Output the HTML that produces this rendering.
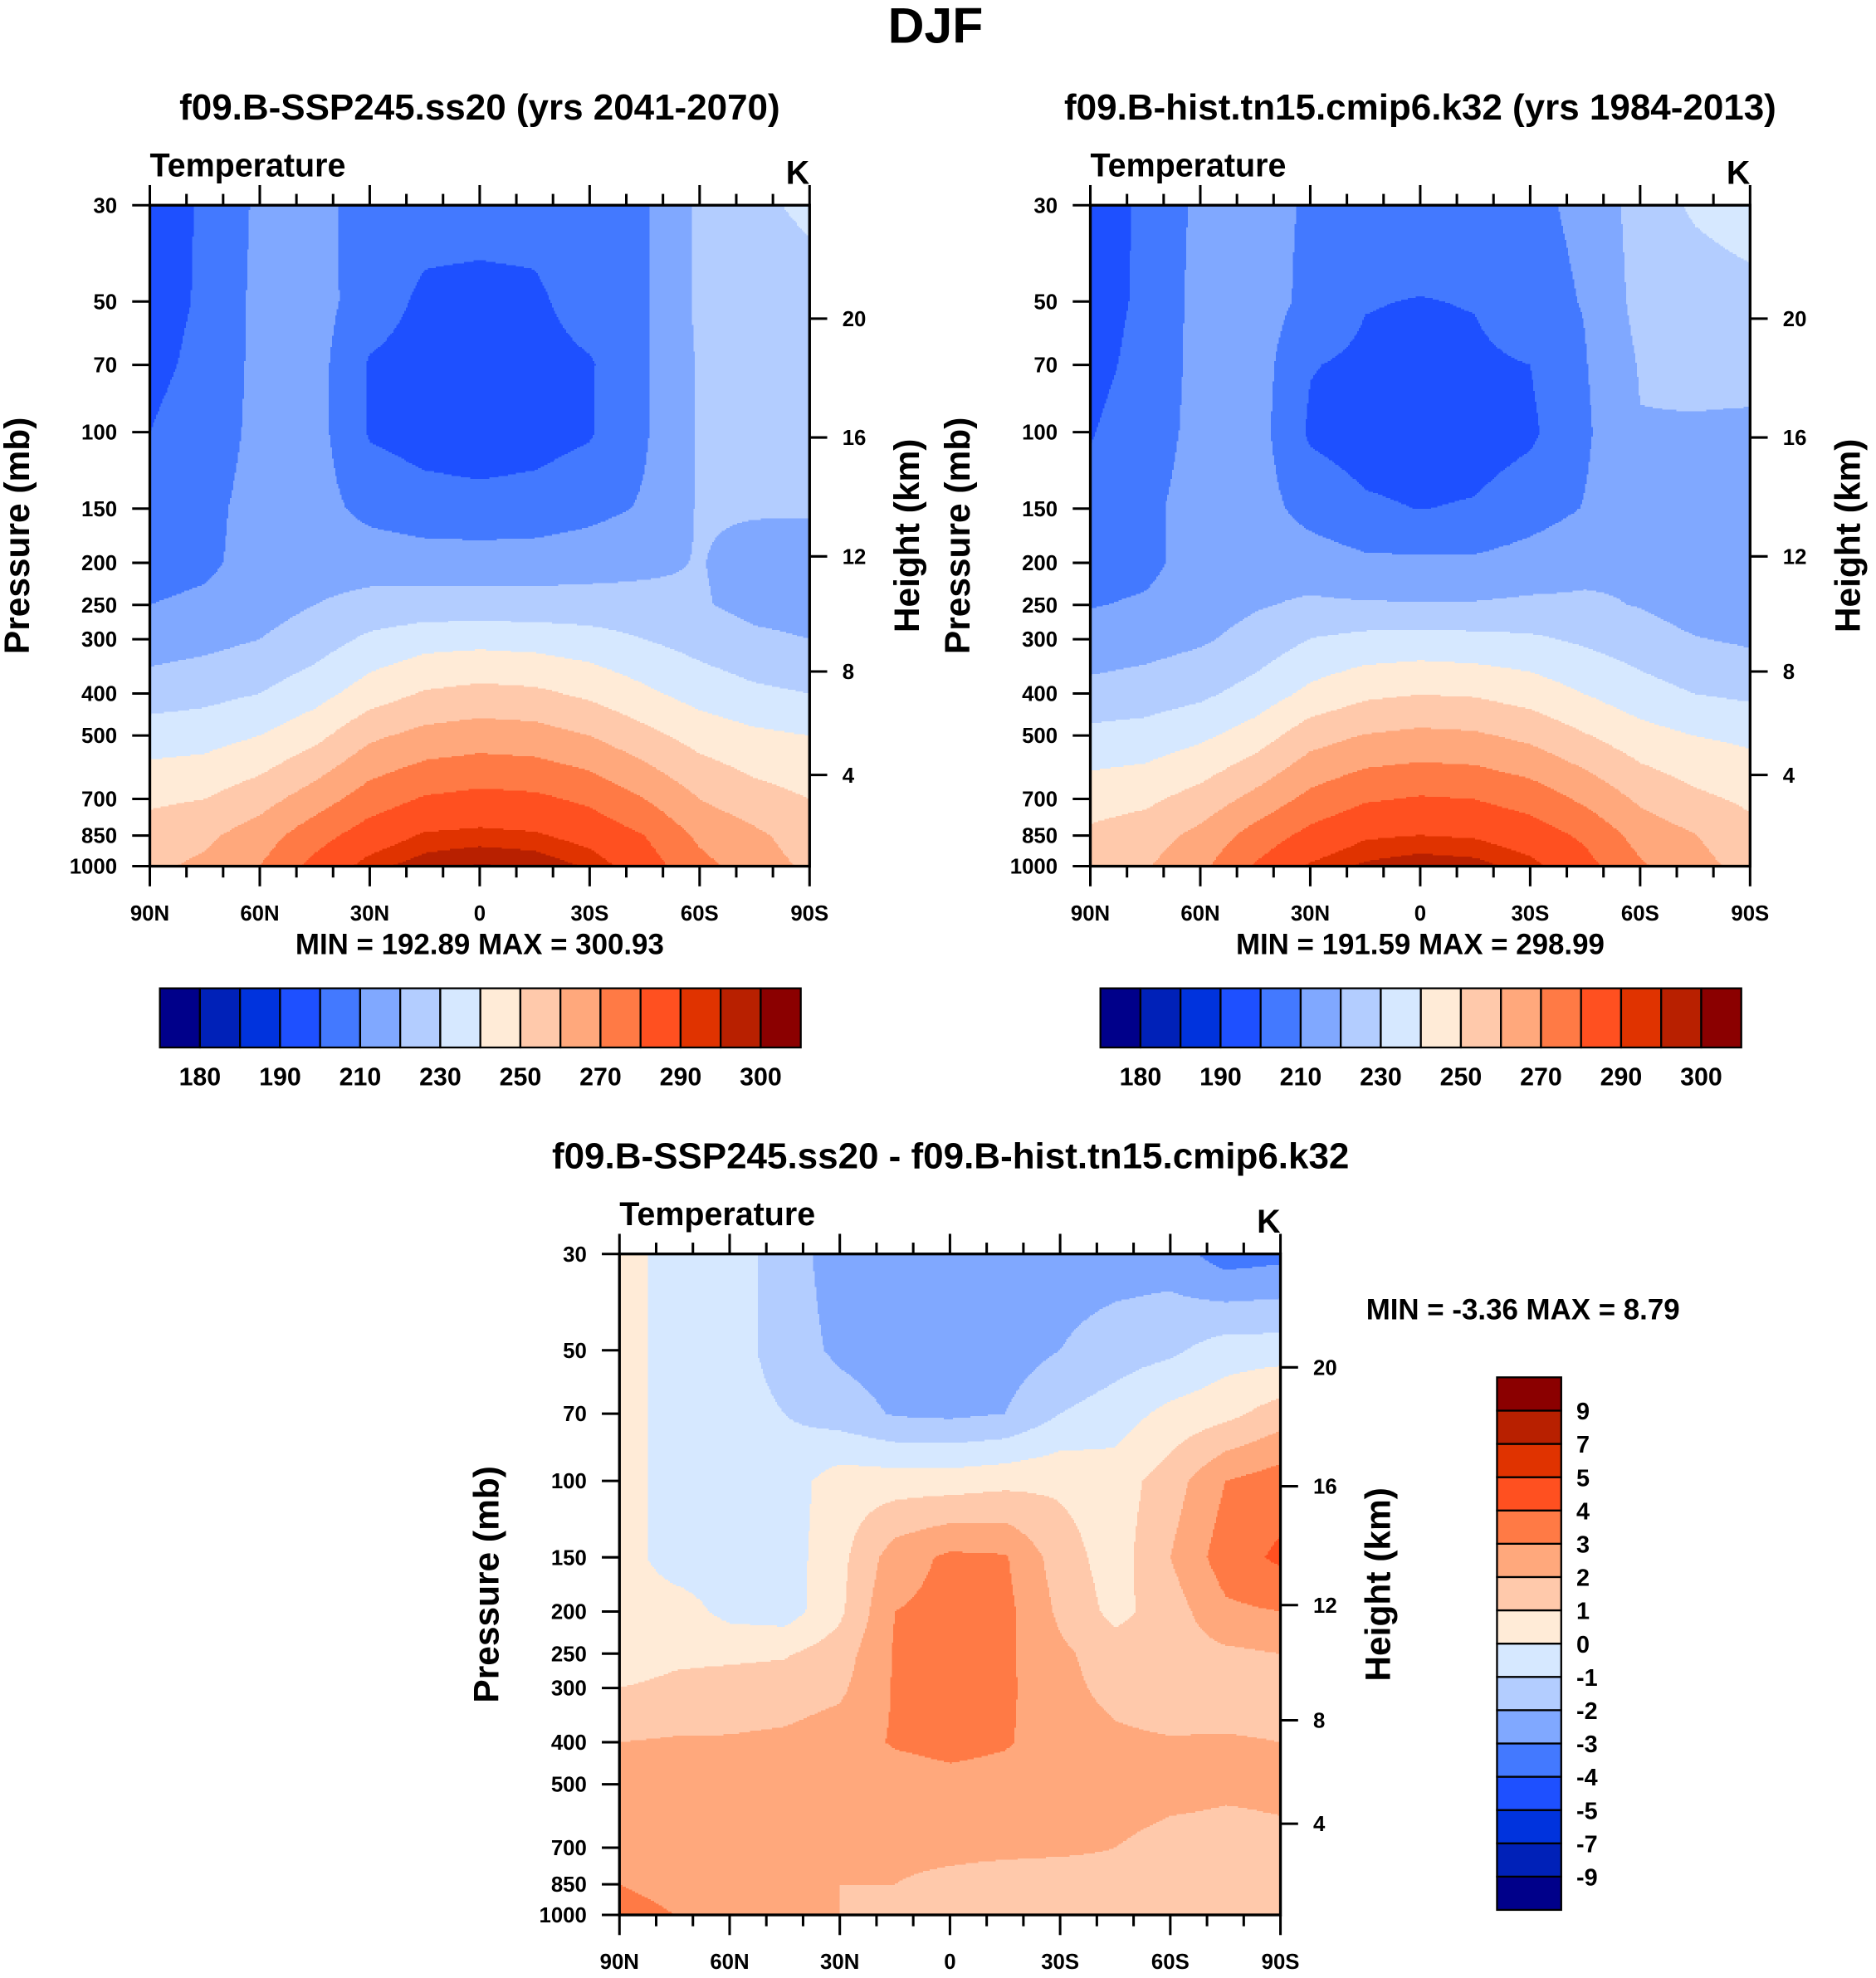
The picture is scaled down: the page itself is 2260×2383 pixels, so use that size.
<!DOCTYPE html>
<html><head><meta charset="utf-8"><title>DJF Temperature</title>
<style>
html,body{margin:0;padding:0;background:#fff;}
svg{display:block;font-family:"Liberation Sans",sans-serif;font-weight:bold;}
</style></head>
<body>
<svg id="fig" xmlns="http://www.w3.org/2000/svg" width="2260" height="2383" viewBox="0 0 1490 1571.1">
<rect x="0" y="0" width="1490" height="1572" fill="#fff"/>
<text x="743" y="34" text-anchor="middle" font-size="40">DJF</text>
<text x="381" y="95" text-anchor="middle" font-size="29">f09.B-SSP245.ss20 (yrs 2041-2070)</text>
<text x="1128" y="95" text-anchor="middle" font-size="29">f09.B-hist.tn15.cmip6.k32 (yrs 1984-2013)</text>
<text x="755" y="928" text-anchor="middle" font-size="29">f09.B-SSP245.ss20 - f09.B-hist.tn15.cmip6.k32</text>
<g id="p1"></g>
<g id="p2"></g>
<g id="p3"></g>
</svg>
<script>
const lats = ["90N","75N","60N","45N","30N","15N","0","15S","30S","45S","60S","75S","90S"];
const pressures = [30,50,70,100,150,200,250,300,400,500,700,850,1000];
const latLabels = ["90N","60N","30N","0","30S","60S","90S"];
const heightTicks = [4,8,12,16,20];
const absLevels = [180,185,190,200,210,220,230,240,250,260,270,280,290,295,300];
const absLabels = ["180","190","210","230","250","270","290","300"];
const diffLevels = [-9,-7,-5,-4,-3,-2,-1,0,1,2,3,4,5,7,9];
const diffLabels = ["-9","-7","-5","-4","-3","-2","-1","0","1","2","3","4","5","7","9"];
const colors = ["#00008a","#0021b8","#0033dd","#1e50ff","#4379ff","#80a8ff","#b3cdff","#d6e8ff","#ffebd7","#ffc9ab","#ffa87c","#ff7a45","#ff5020","#e03300","#b82000","#8b0000"];

const futureT = [
[196,201,212,213,206,204,204,204,206,209,222,228,232],
[197,201,213,214,205,198,197,198,205,209,222,224,226],
[198,202,213,214,199,196,195,196,199,209,221,223,224],
[200,204,213,214,199,196,195,196,199,209,221,222,222],
[203,207,214,214,207,204,203,204,207,211,221,221,221],
[206,208,214,216,216,215,215,215,216,218,220.5,216,215],
[210,212,216,220,223,224,224,224,224,223,221,217,216],
[215,217,220,225,232,236,237,236,234,230,226,222,220],
[225,227,230,236,245,251,253,252,248,242,236,232,230],
[235,236,240,247,258,263,265,264,260,253,246,242,240],
[248,250,256,265,275,281,283,282,278,270,260,254,250],
[255,258,265,276,285,291,292,291,287,280,268,262,255],
[258,262,270,283,293,298,300.5,299,294,285,273,265,258]];
const histT = [
[195.5,201.5,212.5,214.5,208.5,207,207,207,208.5,211.5,224.5,231.5,235.3],
[196.5,201.5,213.5,215.5,207.2,200.5,199.6,200.5,207,210.5,223.2,224.5,226.5],
[197.5,202.5,213.5,215,200.5,198.1,197.2,198,200,209.5,220.7,222.3,222.5],
[199.5,204.5,213.5,214.5,198.5,195.5,194.5,195.3,198.2,208.5,219.5,219,218.5],
[202.5,207.5,214.5,214.5,206.3,201.5,199.8,200.9,205.5,210.5,219,217.5,216.8],
[205.5,207.5,214.3,216.5,215.2,212,211.7,211.7,214.2,217.3,219,213.2,212],
[209.5,211.2,215.2,219.1,221.5,220.9,220.7,220.8,221.8,221.5,219.5,215.2,214],
[214,215.8,218.6,223.5,230.2,232.9,233.7,232.8,231.7,228.3,224.7,220.5,218.5],
[223,224.9,227.9,233.8,242.5,247.9,249.7,248.9,245.5,239.8,233.9,229.9,228],
[232.9,233.9,237.9,244.8,255.7,260.5,262.3,261.4,257.5,250.7,243.8,239.9,237.9],
[245.7,247.8,253.9,262.9,272.9,278.9,280.9,279.9,275.9,268,258.2,252.2,248.1],
[252,255.4,262.8,274,283,289,290.1,289.2,285.3,278.2,266.3,260.3,253.3],
[254.5,259,267.5,281,291,296.1,298.5,297.2,292.3,283.3,271.4,263.4,256.4]];
const diffT = [
[0.5,-0.5,-0.5,-1.5,-2.5,-2.5,-2.5,-2.5,-2.5,-2.5,-2.5,-3.5,-3.3],
[0.5,-0.5,-0.5,-1.5,-2.2,-2.5,-2.6,-2.5,-2,-1.5,-1.2,-0.5,-0.5],
[0.5,-0.5,-0.5,-1,-1.5,-2.1,-2.2,-2,-1,-0.5,0.3,0.7,1.5],
[0.5,-0.5,-0.5,-0.5,0.5,0.5,0.5,0.7,0.8,0.5,1.5,3,3.5],
[0.5,-0.5,-0.5,-0.5,0.7,2.5,3.2,3.1,1.5,0.5,2,3.5,4.2],
[0.5,0.5,-0.3,-0.5,0.8,3,3.3,3.3,1.8,0.7,1.5,2.8,3],
[0.5,0.8,0.8,0.9,1.5,3.1,3.3,3.2,2.2,1.5,1.5,1.8,2],
[1,1.2,1.4,1.5,1.8,3.1,3.3,3.2,2.3,1.7,1.3,1.5,1.5],
[2,2.1,2.1,2.2,2.5,3.1,3.3,3.1,2.5,2.2,2.1,2.1,2],
[2.1,2.1,2.1,2.2,2.3,2.5,2.7,2.6,2.5,2.3,2.2,2.1,2.1],
[2.3,2.2,2.1,2.1,2.1,2.1,2.1,2.1,2.1,2,1.8,1.8,1.9],
[3,2.6,2.2,2,2,2,1.9,1.8,1.7,1.8,1.7,1.7,1.7],
[3.5,3,2.5,2,2,1.9,1.5,1.8,1.7,1.7,1.6,1.6,1.6]];

const NS = "http://www.w3.org/2000/svg";
function mk(parent, tag, attrs, text){
  const e = document.createElementNS(NS, tag);
  for (const k in attrs) e.setAttribute(k, attrs[k]);
  if (text !== undefined) e.textContent = text;
  parent.appendChild(e);
  return e;
}
const LOGSPAN = Math.log10(1000/30);
function yOfP(p, y0, y1){ return y0 + (y1-y0)*Math.log10(p/30)/LOGSPAN; }
function pOfY(y, y0, y1){ return 30*Math.pow(10, (y-y0)/(y1-y0)*LOGSPAN); }
function pOfZ(zkm){
  const z = zkm*1000;
  if (z <= 11000) return 1013.25*Math.pow(1-2.25577e-5*z, 5.25588);
  return 226.32*Math.exp(-(z-11000)/6341.6);
}
function sample(field, fi, pr){
  const lp = Math.log(pr);
  let j = 0;
  while (j < pressures.length-2 && Math.log(pressures[j+1]) < lp) j++;
  let t = (lp - Math.log(pressures[j]))/(Math.log(pressures[j+1]) - Math.log(pressures[j]));
  t = Math.max(0, Math.min(1, t));
  fi = Math.max(0, Math.min(lats.length-1, fi));
  let i = Math.min(Math.floor(fi), lats.length-2);
  const s = fi - i;
  const a = field[j][i]*(1-s) + field[j][i+1]*s;
  const b = field[j+1][i]*(1-s) + field[j+1][i+1]*s;
  return a*(1-t) + b*t;
}
function levelIndex(v, levels){ let k=0; while(k<levels.length && v>=levels[k]) k++; return k; }

function drawPanel(g, field, levels, x0, x1, y0, y1){
  const fill = mk(g, "g", {"shape-rendering":"crispEdges"});
  
  
  const ny = 420, nx = 420;
  const dy = (y1-y0)/ny, dx = (x1-x0)/nx;
  for (let r = 0; r < ny; r++){
    const y = y0 + r*dy;
    const pr = pOfY(y + dy/2, y0, y1);
    let runStart = 0, runC = -1;
    for (let c = 0; c <= nx; c++){
      let col = -2;
      if (c < nx){
        const fi = ((c + 0.5)/nx)*(lats.length-1);
        col = levelIndex(sample(field, fi, pr), levels);
      }
      if (col !== runC){
        if (runC >= 0){
          const rx = x0 + runStart*dx;
          const rect = mk(fill, "rect", {x:rx.toFixed(2), y:y.toFixed(2), width:((c-runStart)*dx+0.3).toFixed(2), height:(dy+0.3).toFixed(2), fill:colors[runC]});
          
          
        }
        runStart = c; runC = col;
      }
    }
  }
  const fr = mk(g, "rect", {x:x0, y:y0, width:x1-x0, height:y1-y0, fill:"none", stroke:"#000", "stroke-width":2.2});
  
  
  const ax = mk(g, "g", {stroke:"#000", "stroke-width":2});
  
  
  for (let k = 0; k <= 18; k++){
    const x = x0 + (x1-x0)*k/18;
    const L = (k % 3 === 0) ? 16 : 9;
    mk(ax, "line", {x1:x, x2:x, y1:y1, y2:y1+L});
    mk(ax, "line", {x1:x, x2:x, y1:y0, y2:y0-L});
  }
  latLabels.forEach((lab, k) => {
    const x = x0 + (x1-x0)*k/6;
    const t = mk(g, "text", {x:x, y:y1+43, "text-anchor":"middle", "font-size":17}, lab);
    
    
  });
  pressures.forEach(p => {
    const y = yOfP(p, y0, y1);
    mk(ax, "line", {x1:x0-14, x2:x0, y1:y, y2:y});
    const t = mk(g, "text", {x:x0-26, y:y+6, "text-anchor":"end", "font-size":17}, String(p));
    
    
  });
  heightTicks.forEach(z => {
    const y = yOfP(pOfZ(z), y0, y1);
    mk(ax, "line", {x1:x1, x2:x1+14, y1:y, y2:y});
    const t = mk(g, "text", {x:x1+26, y:y+6, "text-anchor":"start", "font-size":17}, String(z));
    
    
  });
  const ym = (y0+y1)/2;
  const yl = mk(g, "text", {x:0, y:0, transform:`translate(${x0-96},${ym}) rotate(-90)`, "text-anchor":"middle", "font-size":28}, "Pressure (mb)");
  
  
  const hl = mk(g, "text", {x:0, y:0, transform:`translate(${x1+87},${ym}) rotate(-90)`, "text-anchor":"middle", "font-size":28}, "Height (km)");
  
  
  const tl = mk(g, "text", {x:x0, y:y0-23, "font-size":26}, "Temperature");
  
  
  const kl = mk(g, "text", {x:x1, y:y0-17, "text-anchor":"end", "font-size":26}, "K");
  
  
}

function hColorbar(g, x0, x1, y0, y1){
  const n = colors.length, w = (x1-x0)/n;
  colors.forEach((c,k) => {
    const r = mk(g, "rect", {x:x0+k*w, y:y0, width:w, height:y1-y0, fill:c, stroke:"#000", "stroke-width":1.5});
    
    
  });
  absLabels.forEach((lab, k) => {
    const x = x0 + w*(1+2*k);
    const t = mk(g, "text", {x:x, y:y1+30, "text-anchor":"middle", "font-size":20}, lab);
    
    
  });
}

const p1 = document.getElementById("p1");
drawPanel(p1, futureT, absLevels, 119, 643, 163, 688);
let t = mk(p1, "text", {x:381, y:758, "text-anchor":"middle", "font-size":23}, "MIN = 192.89  MAX = 300.93");


hColorbar(p1, 127, 636, 785, 832);

const p2 = document.getElementById("p2");
drawPanel(p2, histT, absLevels, 866, 1390, 163, 688);
t = mk(p2, "text", {x:1128, y:758, "text-anchor":"middle", "font-size":23}, "MIN = 191.59  MAX = 298.99");


hColorbar(p2, 874, 1383, 785, 832);

const p3 = document.getElementById("p3");
drawPanel(p3, diffT, diffLevels, 492, 1017, 996, 1521);
t = mk(p3, "text", {x:1085, y:1048, "font-size":23}, "MIN =  -3.36  MAX =   8.79");


(function(){
  const x0=1189, x1=1240, y0=1094, y1=1517, n=colors.length, h=(y1-y0)/n;
  colors.forEach((c,k) => {
    const r = mk(p3, "rect", {x:x0, y:y0+(n-1-k)*h, width:x1-x0, height:h, fill:c, stroke:"#000", "stroke-width":1.5});
    
    
  });
  diffLabels.forEach((lab, k) => {
    const y = y1 - h*(k+1);
    const tt = mk(p3, "text", {x:x1+12, y:y+7, "font-size":19}, lab);
    
    
  });
})();
</script>
</body></html>
